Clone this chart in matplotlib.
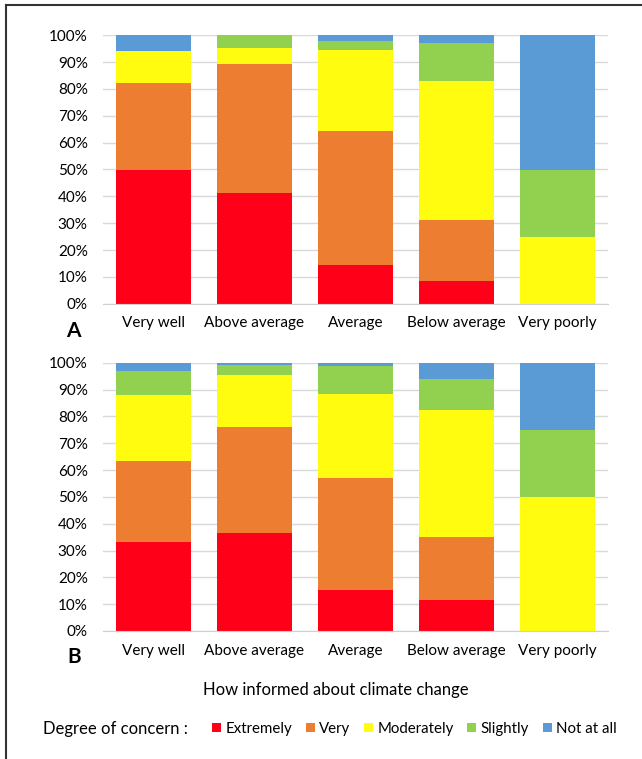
import matplotlib
matplotlib.use("Agg")
import matplotlib.pyplot as plt
from matplotlib.lines import Line2D
from matplotlib.ticker import PercentFormatter
import numpy as np

plt.rcParams["font.family"] = ["Lato", "DejaVu Sans"]

categorias = ["Very well", "Above average", "Average", "Below average", "Very poorly"]
niveis = ["Extremely", "Very", "Moderately", "Slightly", "Not at all"]
cores = ["#FF0019", "#ED7D31", "#FFFC0F", "#92D050", "#5B9BD5"]

# painel A (% por categoria)
extremely_a = [50.0, 41.4, 14.4, 8.4, 0.0]
very_a = [32.4, 48.0, 50.1, 22.9, 0.0]
moderately_a = [11.8, 6.0, 30.0, 51.6, 25.0]
slightly_a = [0.0, 4.6, 3.4, 14.2, 25.0]
not_at_all_a = [5.8, 0.0, 2.1, 2.9, 50.0]

# painel B (% por categoria)
extremely_b = [33.2, 36.5, 15.2, 11.6, 0.0]
very_b = [30.3, 39.4, 41.8, 23.6, 0.0]
moderately_b = [24.5, 19.4, 31.4, 47.2, 50.0]
slightly_b = [8.9, 3.8, 10.5, 11.6, 25.0]
not_at_all_b = [3.1, 0.9, 1.1, 6.0, 25.0]

W, H = 642, 759


def empilha(ax, series):
    x = np.arange(len(categorias))
    base = np.zeros(len(categorias))
    barras = []
    for valores, cor, nome in zip(series, cores, niveis):
        b = ax.bar(x, valores, 0.75, bottom=base, color=cor, linewidth=0, label=nome, zorder=2)
        barras.append(b)
        base += np.array(valores)
    ax.set_xlim(-0.5, len(categorias) - 0.5)
    ax.set_ylim(0, 100)
    ax.set_yticks(np.arange(0, 101, 10))
    ax.yaxis.set_major_formatter(PercentFormatter(decimals=0))
    ax.set_xticks(x, categorias)
    ax.grid(axis="y", color="#d9d9d9", linewidth=1, zorder=0)
    for lado in ["top", "right", "left"]:
        ax.spines[lado].set_visible(False)
    ax.spines["bottom"].set_color("#d0d0d0")
    ax.tick_params(axis="y", length=0, pad=11, labelsize=11)
    ax.tick_params(axis="x", length=0, pad=9, labelsize=11)
    return barras


fig = plt.figure(figsize=(W / 100, H / 100), dpi=100)

ax_a = fig.add_axes([103 / W, 1 - 303.7 / H, 505 / W, 268.4 / H])
ax_b = fig.add_axes([103 / W, 1 - 631 / H, 505 / W, 268.3 / H])

barras = empilha(ax_a, [extremely_a, very_a, moderately_a, slightly_a, not_at_all_a])
empilha(ax_b, [extremely_b, very_b, moderately_b, slightly_b, not_at_all_b])

fig.text(73 / W, 1 - 331 / H, "A", fontsize=15, fontweight="bold", ha="center", va="center")
fig.text(74 / W, 1 - 657 / H, "B", fontsize=15, fontweight="bold", ha="center", va="center")

fig.text(336 / W, 1 - 690 / H, "How informed about climate change", fontsize=12, ha="center", va="center")
fig.text(43 / W, 1 - 729 / H, "Degree of concern :", fontsize=12, ha="left", va="center")

fig.legend(
    [b[0] for b in barras], niveis,
    loc="center left", bbox_to_anchor=(212 / W, 1 - 729 / H),
    ncol=5, frameon=False, fontsize=10.8,
    handlelength=0.6, handleheight=0.6, handletextpad=0.3,
    columnspacing=0.9, borderpad=0, borderaxespad=0,
)

# moldura (so topo e esquerda aparecem)
fig.add_artist(Line2D([6 / W, 1], [1 - 5 / H, 1 - 5 / H], color="#333333", linewidth=1.5))
fig.add_artist(Line2D([6 / W, 6 / W], [0, 1 - 5 / H], color="#333333", linewidth=1.5))

fig.savefig("out.png", dpi=100)
